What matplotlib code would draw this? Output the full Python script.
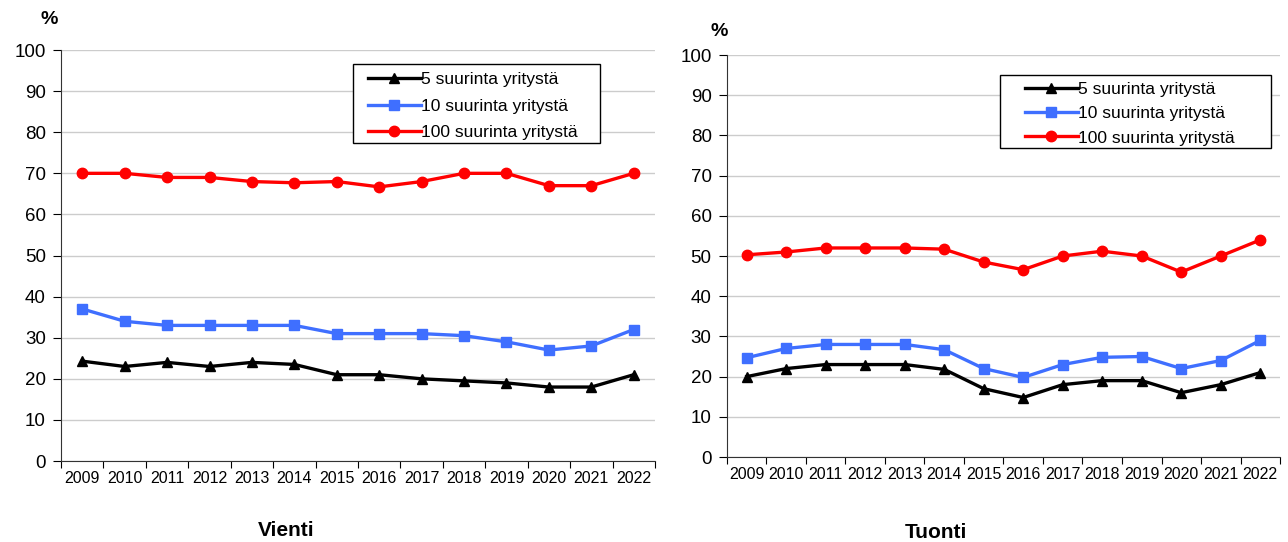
import numpy as np
import matplotlib.pyplot as plt
from matplotlib.patches import Rectangle
from matplotlib.ticker import FixedLocator

plt.rcParams['font.family'] = ['Liberation Sans', 'DejaVu Sans']

years = [str(y) for y in range(2009, 2023)]

# Vienti (export)
vienti_5 = [24.3, 23, 24, 23, 24, 23.5, 21, 21, 20, 19.5, 19, 18, 18, 21]
vienti_10 = [37, 34, 33, 33, 33, 33, 31, 31, 31, 30.5, 29, 27, 28, 32]
vienti_100 = [70, 70, 69, 69, 68, 67.7, 68, 66.7, 68, 70, 70, 67, 67, 70]

# Tuonti (import)
tuonti_5 = [20, 22, 23, 23, 23, 21.8, 17, 14.8, 18, 19, 19, 16, 18, 21]
tuonti_10 = [24.7, 27, 28, 28, 28, 26.7, 22, 19.8, 23, 24.8, 25, 22, 24, 29]
tuonti_100 = [50.3, 51, 52, 52, 52, 51.7, 48.5, 46.6, 50, 51.2, 50, 46, 50, 54]

labels = ["5 suurinta yritystä", "10 suurinta yritystä", "100 suurinta yritystä"]
colors = ["#000000", "#3F6FFF", "#FF0000"]
markers = ["^", "s", "o"]

W, H = 1288, 542
fig = plt.figure(figsize=(W / 100, H / 100), dpi=100)
ax1 = fig.add_axes([0.0474, 0.1494, 0.4611, 0.7583])
ax2 = fig.add_axes([0.5644, 0.1568, 0.4294, 0.7417])

x = np.arange(len(years))


def px(xp, yp):
    # pixel position (from top-left) -> figure fraction
    return xp / W, 1 - yp / H


def draw(ax, series, title, title_xy, pct_xy, leg_xy, leg_spacing, box):
    for vals, lab, c, m in zip(series, labels, colors, markers):
        ax.plot(x, vals, color=c, marker=m, lw=2.4, ms=7.5, label=lab,
                clip_on=False, zorder=3)
    ax.set_xlim(-0.5, len(years) - 0.5)
    ax.set_ylim(0, 100)
    ax.set_yticks(range(0, 101, 10))
    ax.yaxis.grid(True, color="#cccccc", lw=1)
    ax.set_axisbelow(True)
    # Excel-style category axis: ticks between categories, labels centred
    ax.xaxis.set_major_locator(FixedLocator(np.arange(-0.5, len(years), 1)))
    ax.xaxis.set_minor_locator(FixedLocator(x))
    ax.set_xticklabels([], minor=False)
    ax.set_xticklabels(years, minor=True, fontsize=11.5)
    ax.tick_params(axis="x", which="minor", length=0, pad=7)
    ax.tick_params(axis="x", which="major", length=5, direction="out")
    ax.tick_params(axis="y", length=6, labelsize=13.5, pad=5)
    for s in ["top", "right"]:
        ax.spines[s].set_visible(False)
    ax.spines["left"].set_color("#333333")
    ax.spines["bottom"].set_color("#333333")

    # legend frame drawn separately (wider horizontal padding than vertical)
    x0, y0, x1, y1 = box
    fx0, fy1 = px(x0, y0)
    fx1, fy0 = px(x1, y1)
    ax.add_patch(Rectangle((fx0, fy0), fx1 - fx0, fy1 - fy0,
                           transform=fig.transFigure, clip_on=False,
                           facecolor="white", edgecolor="black",
                           lw=1.0, zorder=4))
    leg = ax.legend(loc="upper left", bbox_to_anchor=px(*leg_xy),
                    bbox_transform=fig.transFigure, fontsize=12.6, frameon=False,
                    handlelength=3.0, borderpad=0, labelspacing=leg_spacing,
                    handletextpad=0.05, borderaxespad=0)
    leg.set_zorder(10)
    fig.text(*px(*pct_xy), "%", fontsize=14, fontweight="bold",
             ha="center", va="center")
    fig.text(*px(*title_xy), title, fontsize=15, fontweight="bold",
             ha="center", va="center")


draw(ax1, [vienti_5, vienti_10, vienti_100], "Vienti", (286, 530), (49, 19),
     (368, 72), 0.65, (353, 64, 600, 143))
draw(ax2, [tuonti_5, tuonti_10, tuonti_100], "Tuonti", (936, 532), (719, 32),
     (1025, 82), 0.51, (1000, 75, 1271, 148))

fig.savefig("out.png", dpi=100)
